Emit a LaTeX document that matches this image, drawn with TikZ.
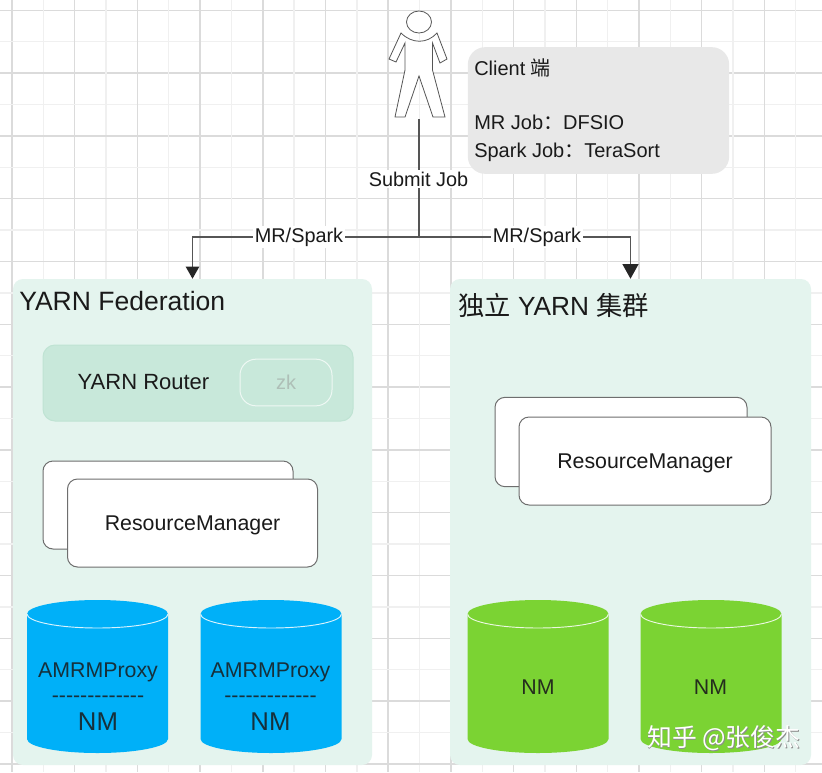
\documentclass[tikz,border=0pt]{standalone}
\usepackage{fontspec}
\setmainfont{Liberation Sans}
\newfontfamily\cjk{Noto Sans CJK SC}
\usetikzlibrary{arrows.meta,calc}
\definecolor{gridA}{HTML}{DBDBDB}
\definecolor{gridB}{HTML}{F0F0F0}
\definecolor{panel}{HTML}{E4F4EE}
\definecolor{router}{HTML}{C8E8DA}
\definecolor{routerline}{HTML}{BFE3D3}
\definecolor{zktext}{HTML}{AEBFB7}
\definecolor{ink}{HTML}{1A1A1A}
\definecolor{conn}{HTML}{555555}
\definecolor{bluecyl}{HTML}{00B0F8}
\definecolor{greencyl}{HTML}{7BD333}
\newcommand{\fs}[1]{\fontsize{#1pt}{#1pt}\selectfont}
\tikzset{
  panelbox/.style={rectangle,rounded corners=7.5pt,fill=panel,inner sep=0pt,minimum width=#1*0.75pt,minimum height=364.5pt},
  rm/.style={rectangle,rounded corners=7.5pt,fill=white,draw=conn!85,line width=.75pt,minimum width=187.5pt,minimum height=66pt,inner sep=0pt,text=ink,font=\fs{16}},
  cyl/.style={rectangle,inner sep=0pt,minimum width=105.75pt,minimum height=114.75pt,
    path picture={
      \fill[#1] ($(path picture bounding box.north west)+(0,14)$)
        arc[x radius=52.875pt,y radius=10.5pt,start angle=180,end angle=0]
        -- ++(0,125)
        arc[x radius=52.875pt,y radius=10.5pt,start angle=0,end angle=-180] -- cycle;
      \draw[rim] ($(path picture bounding box.north west)+(0,14)$)
        arc[x radius=52.875pt,y radius=10.5pt,start angle=180,end angle=360];
    }},
  cyltext/.style={align=center,inner sep=0pt,font=\fs{16}},
  rim/.style={draw=white,draw opacity=.85,line width=.7pt},
  lbl/.style={fill=white,inner sep=1.5pt,text=ink,font=\fs{14.9}},
  link/.style={draw=conn,line width=.8pt},
  title/.style={anchor=west,inner sep=0pt,text=ink,font=\fs{19.9}},
  clienttext/.style={anchor=west,inner sep=0pt,text=ink,font=\fs{15}},
}
\begin{document}
\begin{tikzpicture}[x=0.75pt,y=-0.75pt]
\useasboundingbox (0,0) rectangle (822,772);
\fill[white] (0,0) rectangle (822,772);
% grid
\foreach \k in {0,...,25}{
  \pgfmathtruncatemacro{\odd}{mod(\k,2)}
  \ifnum\odd=1 \def\gc{gridB}\else\def\gc{gridA}\fi
  \draw[\gc,line width=1.1pt] ({12+31.35*\k},0) -- ({12+31.35*\k},772);
  \draw[\gc,line width=1.1pt] (0,{10.3+31.4*\k}) -- (822,{10.3+31.4*\k});
}
% panels
\node[panelbox=359] (fed) at (192.5,522) {};
\node[panelbox=361] (solo) at (630.5,522) {};
\node[title] (fedt) at (19,301) {YARN Federation};
\node[title,font=\fs{19.7}] (solot) at (458,305) {{\cjk 独立} YARN {\cjk 集群}};
% router
\node[rectangle,rounded corners=9pt,fill=router,draw=routerline,line width=.75pt,minimum width=232.5pt,minimum height=57pt,inner sep=0pt] (router) at (198,383) {};
\node[anchor=center,inner sep=0pt,text=ink,font=\fs{16.5}] (routert) at (143.5,382.5) {YARN Router};
\node[rectangle,rounded corners=12pt,fill=router,draw=white,draw opacity=.7,line width=.75pt,minimum width=69pt,minimum height=35pt,inner sep=0pt,text=zktext,font=\fs{15}] (zk) at (286,382.5) {zk};
% resource managers
\node[rm] (rma) at (168,505) {};
\node[rm] (rmb) at (192.5,523) {\raisebox{0pt}[12pt][1pt]{ResourceManager}};
\node[rm,minimum width=189pt,minimum height=67pt] (rmc) at (621,442) {};
\node[rm,minimum width=189pt,minimum height=66pt] (rmd) at (645,461) {\raisebox{0pt}[12pt][1pt]{ResourceManager}};
% cylinders
\newcommand{\proxy}{AMRMProxy\\[3pt]-{}-{}-{}-{}-{}-{}-{}-{}-{}-{}-{}-{}-\\[5pt]{\fs{19.3}NM}}
\node[cyl=bluecyl] (b1) at (97.5,676.5) {};
\node[cyl=bluecyl] (b2) at (271,676.5) {};
\node[cyl=greencyl] (g1) at (538,676.5) {};
\node[cyl=greencyl] (g2) at (711,676.5) {};
\node[cyltext,text=ink!85!bluecyl] (b1t) at (98,696.5) {\proxy};
\node[cyltext,text=ink!85!bluecyl] (b2t) at (270.5,696.5) {\proxy};
\node[cyltext,text=ink!90!greencyl] (g1t) at (538,687) {NM};
\node[cyltext,text=ink!90!greencyl] (g2t) at (710.5,687) {NM};
% client box
\node[rectangle,rounded corners=13pt,fill=black!9,minimum width=196pt,minimum height=95pt,inner sep=0pt] (client) at (598.5,110.5) {};
\node[clienttext] (c1) at (474,68) {Client {\cjk 端}};
\node[clienttext] (c2) at (474,122) {MR Job{\cjk ：}DFSIO};
\node[clienttext] (c3) at (474,152) {Spark Job{\cjk ：}TeraSort};
% person
\node[minimum width=45pt,minimum height=81pt,inner sep=0pt] (person) at (419,65) {};
\draw[conn,line width=.6pt,fill=white]
  (401,33) .. controls (412,44) and (427,44) .. (437,33)
  -- (447,59) -- (440,63) -- (432.5,43) -- (432.5,70) -- (445,117) -- (433,117)
  -- (419,76) -- (405,117) -- (395,117) -- (405,70) -- (405,43) -- (396,62) -- (389,59) -- cycle;
\draw[conn,line width=.6pt,fill=white] (419,22) ellipse[x radius=12.5,y radius=11];
% connectors
\coordinate (hub) at (419,237);
\draw[link] (person.south) -- (hub);
\draw[link,-{Triangle[width=10pt,length=9pt,color=black!85]}] (hub) -| (fed.north);
\draw[link,-{Triangle[width=12pt,length=11pt,color=black!85]}] (hub) -| (solo.north);
\node[lbl] (submit) at (418.5,179) {Submit Job};
\node[lbl] (mrl) at (299,237) {MR/Spark};
\node[lbl] (mrr) at (537,237) {MR/Spark};
% watermark
\node[anchor=west,inner sep=0pt,text=black!45,font=\fs{18.6}\cjk] (wms) at (647.7,738.7) {知乎 @张俊杰};
\node[anchor=west,inner sep=0pt,text=white,font=\fs{18.6}\cjk] (wm) at (647,738) {知乎 @张俊杰};
\end{tikzpicture}
\end{document}
